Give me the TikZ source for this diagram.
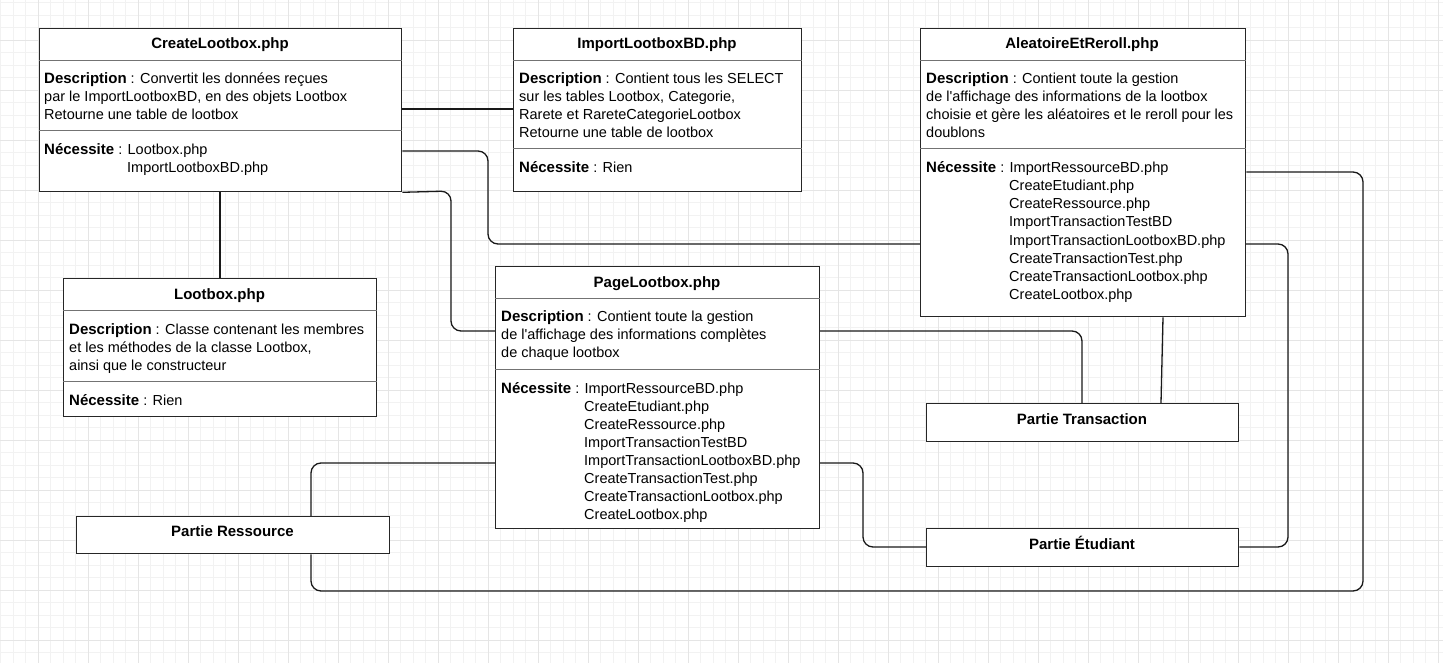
\documentclass[tikz,border=0pt]{standalone}
\usepackage{fontspec}
\setmainfont{Liberation Sans}[Ligatures=TeXOff]
\pgfdeclarelayer{background}
\pgfsetlayers{background,main}
\newcommand\tline[4]{\node[txt] (#1) at (#2,#3) {#4};}
\newcommand\lbl[1]{{\fontsize{15}{18}\selectfont\bfseries #1}}
\begin{document}
\begin{tikzpicture}[x=1pt,y=-1pt,
  box/.style={draw=black!85, line width=1.3pt, fill=white, inner sep=0pt, anchor=north west},
  div/.style={draw=black!55, line width=1pt},
  txt/.style={anchor=base west, inner sep=0pt, font=\fontsize{14.5}{18}\selectfont},
  ttl/.style={anchor=base, inner sep=0pt, font=\fontsize{15}{18}\selectfont\bfseries},
  conn/.style={draw=black!90, line width=1.3pt, rounded corners=10pt},
  gmin/.style={draw=black!5, line width=0.9pt},
  gmaj/.style={draw=black!10, line width=0.9pt}]
\useasboundingbox (0,0) rectangle (1443,663);
\begin{pgfonlayer}{background}
\fill[white] (0,0) rectangle (1443,663);
\foreach \i in {0,...,115} \draw[gmin] ({0.5+12.5*\i},0) -- ({0.5+12.5*\i},663);
\foreach \j in {0,...,53} \draw[gmin] (0,{2.5+12.5*\j}) -- (1443,{2.5+12.5*\j});
\foreach \i in {0,...,28} \draw[gmaj] ({38+50*\i},0) -- ({38+50*\i},663);
\foreach \j in {0,...,12} \draw[gmaj] (0,{40+50*\j}) -- (1443,{40+50*\j});
\end{pgfonlayer}

% boxes
\node[box, minimum width=362pt, minimum height=163pt] (cl) at (39,28) {};
\node[box, minimum width=288pt, minimum height=163pt] (il) at (513,28) {};
\node[box, minimum width=325pt, minimum height=288pt] (al) at (920,28) {};
\node[box, minimum width=313pt, minimum height=138pt] (lb) at (63,278) {};
\node[box, minimum width=324pt, minimum height=262pt] (pl) at (495,266) {};
\node[box, minimum width=313pt, minimum height=37pt] (pr) at (76,516) {};
\node[box, minimum width=312pt, minimum height=38pt] (pt) at (926,403) {};
\node[box, minimum width=312pt, minimum height=38pt] (pe) at (926,528) {};

% dividers
\draw[div] (cl.west |- 0,61) -- (cl.east |- 0,61);
\draw[div] (cl.west |- 0,131) -- (cl.east |- 0,131);
\draw[div] (il.west |- 0,61) -- (il.east |- 0,61);
\draw[div] (il.west |- 0,149) -- (il.east |- 0,149);
\draw[div] (al.west |- 0,61) -- (al.east |- 0,61);
\draw[div] (al.west |- 0,149) -- (al.east |- 0,149);
\draw[div] (lb.west |- 0,310) -- (lb.east |- 0,310);
\draw[div] (lb.west |- 0,381) -- (lb.east |- 0,381);
\draw[div] (pl.west |- 0,298) -- (pl.east |- 0,298);
\draw[div] (pl.west |- 0,369) -- (pl.east |- 0,369);

% titles
\node[ttl] (clt) at (220,49) {CreateLootbox.php};
\node[ttl] (ilt) at (657,49) {ImportLootboxBD.php};
\node[ttl] (alt) at (1082,49) {AleatoireEtReroll.php};
\node[ttl] (lbt) at (219.5,299) {Lootbox.php};
\node[ttl] (plt) at (657,287) {PageLootbox.php};
\node[ttl] (prt) at (232.5,536) {Partie Ressource};
\node[ttl] (ptt) at (1082,424) {Partie Transaction};
\node[ttl] (pet) at (1082,549) {Partie Étudiant};

% CreateLootbox texts
\tline{cl1}{44}{84}{\lbl{Description} : Convertit les données reçues}
\tline{cl2}{44}{102}{par le ImportLootboxBD, en des objets Lootbox}
\tline{cl3}{44}{120}{Retourne une table de lootbox}
\tline{cl4}{44}{155}{\lbl{Nécessite} : Lootbox.php}
\tline{cl5}{127}{173}{ImportLootboxBD.php}

% ImportLootboxBD texts
\tline{il1}{519}{84}{\lbl{Description} : Contient tous les SELECT}
\tline{il2}{519}{102}{sur les tables Lootbox, Categorie,}
\tline{il3}{519}{120}{Rarete et RareteCategorieLootbox}
\tline{il4}{519}{138}{Retourne une table de lootbox}
\tline{il5}{519}{173}{\lbl{Nécessite} : Rien}

% AleatoireEtReroll texts
\tline{al1}{926}{84}{\lbl{Description} : Contient toute la gestion}
\tline{al2}{926}{102}{de l'affichage des informations de la lootbox}
\tline{al3}{926}{120}{choisie et gère les aléatoires et le reroll pour les}
\tline{al4}{926}{138}{doublons}
\tline{al5}{926}{173}{\lbl{Nécessite} : ImportRessourceBD.php}
\tline{al6}{1009}{191}{CreateEtudiant.php}
\tline{al7}{1009}{209}{CreateRessource.php}
\tline{al8}{1009}{227}{ImportTransactionTestBD}
\tline{al9}{1009}{245}{ImportTransactionLootboxBD.php}
\tline{al10}{1009}{263}{CreateTransactionTest.php}
\tline{al11}{1009}{281}{CreateTransactionLootbox.php}
\tline{al12}{1009}{299}{CreateLootbox.php}

% Lootbox texts
\tline{lb1}{69}{334}{\lbl{Description} : Classe contenant les membres}
\tline{lb2}{69}{352}{et les méthodes de la classe Lootbox,}
\tline{lb3}{69}{370}{ainsi que le constructeur}
\tline{lb4}{69}{405}{\lbl{Nécessite} : Rien}

% PageLootbox texts
\tline{pl1}{501}{321}{\lbl{Description} : Contient toute la gestion}
\tline{pl2}{501}{339}{de l'affichage des informations complètes}
\tline{pl3}{501}{357}{de chaque lootbox}
\tline{pl4}{501}{393}{\lbl{Nécessite} : ImportRessourceBD.php}
\tline{pl5}{584}{411}{CreateEtudiant.php}
\tline{pl6}{584}{429}{CreateRessource.php}
\tline{pl7}{584}{447}{ImportTransactionTestBD}
\tline{pl8}{584}{465}{ImportTransactionLootboxBD.php}
\tline{pl9}{584}{483}{CreateTransactionTest.php}
\tline{pl10}{584}{501}{CreateTransactionLootbox.php}
\tline{pl11}{584}{519}{CreateLootbox.php}

% connectors
\begin{pgfonlayer}{background}
\draw[conn] (cl.east |- 0,109) -- (il.west |- 0,109);
\draw[conn] (cl.south -| 220,0) -- (lb.north -| 220,0);
\draw[conn] (cl.east |- 0,151) -- (488,151) -- (488,244) -- (1288,244) -- (1288,547) -- (pe.east |- 0,547);
\draw[conn] (cl.south east) -- (451,191) -- (451,331) -- (1082,331) -- (pt.north -| 1082,0);
\draw[conn] (al.south -| 1163,0) -- (pt.north -| 1161,0);
\draw[conn] (al.east |- 0,172) -- (1363,172) -- (1363,591) -- (311,591) -- (pr.south -| 311,0);
\draw[conn] (pr.north -| 311,0) -- (311,463) -- (863,463) -- (863,547) -- (pe.west |- 0,547);
\end{pgfonlayer}
\end{tikzpicture}
\end{document}
